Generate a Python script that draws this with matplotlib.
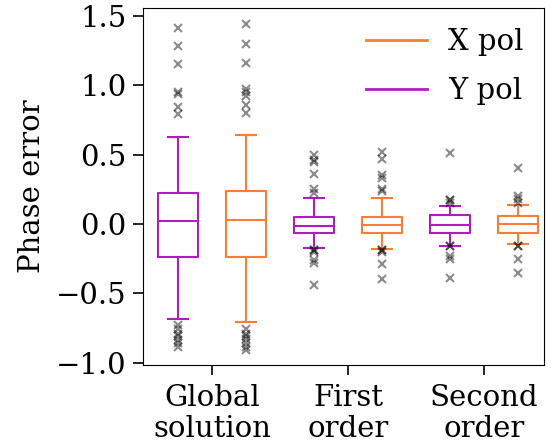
import matplotlib
matplotlib.use("Agg")
import matplotlib.pyplot as plt
import numpy as np

plt.rcParams["font.family"] = ["DejaVu Serif"]
plt.rcParams["font.size"] = 21

groups = ["Global\nsolution", "First\norder", "Second\norder"]
series = ["Y pol", "X pol"]
colors = {"X pol": "#fb7c35", "Y pol": "#b01cc2"}

# box statistics, one entry per group
y_med = [0.022, -0.012, -0.007]
y_q1 = [-0.238, -0.067, -0.063]
y_q3 = [0.223, 0.048, 0.065]
y_lo = [-0.685, -0.171, -0.156]
y_hi = [0.627, 0.185, 0.13]
y_fliers = [
    [1.41, 1.28, 1.15, 0.95, 0.94, 0.84, 0.79, -0.73, -0.76, -0.79, -0.81, -0.84, -0.86, -0.89],
    [0.50, 0.46, 0.45, 0.36, 0.25, 0.22, -0.19, -0.19, -0.20, -0.26, -0.28, -0.44],
    [0.51, 0.17, 0.17, 0.15, -0.16, -0.16, -0.23, -0.25, -0.39],
]

x_med = [0.029, -0.01, 0.0]
x_q1 = [-0.238, -0.067, -0.063]
x_q3 = [0.238, 0.048, 0.058]
x_lo = [-0.707, -0.18, -0.146]
x_hi = [0.642, 0.19, 0.137]
x_fliers = [
    [1.44, 1.30, 1.16, 0.97, 0.95, 0.92, 0.86, 0.80, -0.76, -0.79, -0.81, -0.83, -0.86, -0.89, -0.91],
    [0.52, 0.47, 0.35, 0.33, 0.25, 0.24, -0.19, -0.19, -0.20, -0.29, -0.40],
    [0.40, 0.20, 0.18, 0.15, -0.16, -0.16, -0.25, -0.35],
]


def make_stats(med, q1, q3, lo, hi, fliers):
    return [dict(med=m, q1=a, q3=b, whislo=l, whishi=h, fliers=np.array(f))
            for m, a, b, l, h, f in zip(med, q1, q3, lo, hi, fliers)]


stats = {
    "Y pol": make_stats(y_med, y_q1, y_q3, y_lo, y_hi, y_fliers),
    "X pol": make_stats(x_med, x_q1, x_q3, x_lo, x_hi, x_fliers),
}
offsets = {"Y pol": -0.25, "X pol": 0.25}

fig = plt.figure(figsize=(5.51, 4.46), dpi=100)
ax = fig.add_axes([0.2595, 0.1816, 0.7275, 0.8004])

base = np.arange(len(groups))
for name in series:
    c = colors[name]
    lp = dict(color=c, linewidth=1.5)
    ax.bxp(stats[name], positions=base + offsets[name], widths=0.3,
           boxprops=lp, whiskerprops=lp, capprops=lp, medianprops=lp,
           flierprops=dict(marker="x", markeredgecolor="black", alpha=0.45,
                           markersize=6, markeredgewidth=1.5),
           manage_ticks=False)

ax.set_xticks(base)
ax.set_xticklabels(groups, linespacing=1.1)
ax.set_xlim(-0.507, 2.44)
ax.set_ylim(-1.017, 1.557)
ax.set_yticks([-1.0, -0.5, 0.0, 0.5, 1.0, 1.5])
ax.tick_params(length=7, width=1.2, pad=5)
ax.tick_params(axis="x", pad=7)
ax.set_ylabel("Phase error", labelpad=7)

handles = [plt.Line2D([], [], color=colors[s], linewidth=2) for s in ["X pol", "Y pol"]]
ax.legend(handles, ["X pol", "Y pol"], loc="upper right", frameon=False,
          handlelength=2.1, handletextpad=0.72, labelspacing=0.72,
          borderaxespad=0.3)

fig.savefig("out.png", dpi=100, facecolor="white")
